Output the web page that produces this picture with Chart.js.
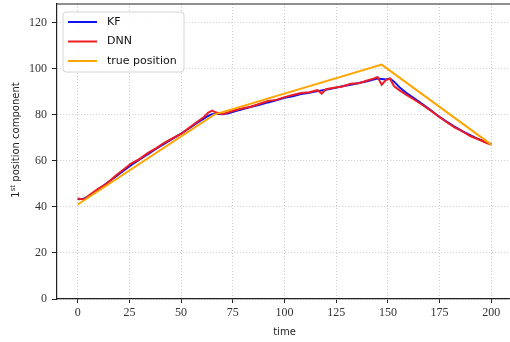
<!DOCTYPE html>
<html>
<head>
<meta charset="utf-8">
<script src="https://cdn.jsdelivr.net/npm/chart.js@4.4.1/dist/chart.umd.min.js"></script>
<style>
    html, body { margin: 0; padding: 0; background: #fff; overflow: hidden; }
    #wrap { position: relative; width: 512px; height: 342px; }
</style>
</head>
<body>
<div id="wrap"><canvas id="posChart"></canvas></div>
<script>
// time steps shared by the KF and DNN estimates
const timeSteps = [0, 3, 6, 10, 14, 18, 22, 26, 30, 34, 38, 42, 46, 50, 54, 58, 61, 63, 65, 67,
    70, 73, 76, 80, 84, 88, 92, 96, 100, 104, 108, 112, 116, 118, 120, 124, 128, 132, 136, 140,
    143, 145, 147, 149, 151, 153, 156, 159, 162, 166, 170, 174, 178, 182, 186, 190, 194, 198, 200];

const kfValues = [43.3, 43.5, 45.0, 47.5, 50.2, 52.8, 55.6, 58.2, 60.6, 62.8, 65.2, 67.4, 69.6, 71.8, 74.1, 76.6, 78.3, 79.4, 80.2, 80.4,
    80.2, 80.6, 81.4, 82.4, 83.4, 84.3, 85.3, 86.2, 87.3, 88.0, 88.9, 89.5, 90.2, 90.5, 90.8, 91.5, 92.3, 93.0, 93.7, 94.5,
    95.2, 95.7, 95.5, 95.2, 95.6, 94.3, 91.5, 89.4, 87.5, 85.0, 82.4, 79.6, 77.2, 74.9, 72.8, 71.0, 69.3, 67.9, 67.2];

const dnnValues = [43.6, 43.2, 45.3, 47.9, 50.0, 53.3, 56.1, 58.9, 60.8, 63.4, 65.5, 67.9, 69.8, 71.6, 74.4, 77.0, 79.0, 80.8, 81.7, 80.9,
    80.2, 81.0, 81.9, 82.8, 83.5, 84.7, 85.9, 86.4, 87.6, 88.5, 89.4, 89.7, 90.6, 89.1, 91.0, 91.7, 92.2, 93.4, 93.6, 94.8,
    95.6, 96.3, 93.0, 95.0, 95.6, 92.3, 90.3, 88.6, 86.9, 84.6, 82.2, 79.5, 77.0, 74.6, 72.7, 70.6, 69.2, 67.6, 67.0];

const trueTimes = [0, 66, 147, 200];
const trueValues = [41.0, 80.0, 101.7, 67.0];

const xTickValues = [0, 25, 50, 75, 100, 125, 150, 175, 200];
const yTickValues = [0, 20, 40, 60, 80, 100, 120];

const seriesLabels = ['KF', 'DNN', 'true position'];

function toPoints(xs, ys) {
    return xs.map((x, i) => ({ x: x, y: ys[i] }));
}

// legend box, top spine and the y title with its superscript
const extras = {
    id: 'extras',
    afterDatasetsDraw(chart) {
        const ctx = chart.ctx;
        const area = chart.chartArea;
        ctx.save();

        ctx.strokeStyle = '#222';
        ctx.lineWidth = 1.2;
        ctx.beginPath();
        ctx.moveTo(area.left, area.top);
        ctx.lineTo(area.right, area.top);
        ctx.stroke();

        const bx = area.left + 6, by = area.top + 8;
        ctx.beginPath();
        ctx.roundRect(bx, by, 121, 60, 3);
        ctx.fillStyle = 'rgba(255,255,255,0.85)';
        ctx.fill();
        ctx.strokeStyle = '#d4d4d4';
        ctx.lineWidth = 1;
        ctx.stroke();

        ctx.font = '11px "DejaVu Sans"';
        ctx.textBaseline = 'middle';
        ctx.textAlign = 'left';
        chart.data.datasets.forEach((ds, i) => {
            const ly = by + 10 + i * 19.5;
            ctx.strokeStyle = ds.borderColor;
            ctx.lineWidth = 2;
            ctx.beginPath();
            ctx.moveTo(bx + 5, ly);
            ctx.lineTo(bx + 34, ly);
            ctx.stroke();
            ctx.fillStyle = '#111';
            ctx.fillText(ds.label, bx + 44, ly);
        });
        ctx.restore();

        // y axis title
        ctx.save();
        ctx.translate(16, 140);
        ctx.rotate(-Math.PI / 2);
        ctx.fillStyle = '#222';
        ctx.textBaseline = 'middle';
        ctx.textAlign = 'left';
        const mainFont = '10px "DejaVu Sans"', supFont = '7px "DejaVu Sans"';
        ctx.font = mainFont;
        const w1 = ctx.measureText('1').width;
        const w3 = ctx.measureText(' position component').width;
        ctx.font = supFont;
        const w2 = ctx.measureText('st').width;
        let cx = -(w1 + w2 + w3) / 2;
        ctx.font = mainFont;
        ctx.fillText('1', cx, 0);
        cx += w1;
        ctx.font = supFont;
        ctx.fillText('st', cx, -3);
        cx += w2;
        ctx.font = mainFont;
        ctx.fillText(' position component', cx, 0);
        ctx.restore();
    }
};

const tickFont = { family: '"Liberation Serif"', size: 12 };

const gridStyle = (len) => ({
    color: '#c4c4c4',
    lineWidth: 0.9,
    tickColor: '#222',
    tickLength: len,
    tickWidth: 1,
    tickBorderDash: []
});

new Chart(document.getElementById('posChart').getContext('2d'), {
    type: 'line',
    data: {
        datasets: [{
            label: seriesLabels[0],
            data: toPoints(timeSteps, kfValues),
            borderColor: '#1010f0',
            borderWidth: 2,
            pointRadius: 0,
            order: 2
        }, {
            label: seriesLabels[1],
            data: toPoints(timeSteps, dnnValues),
            borderColor: '#ee1c25',
            borderWidth: 2,
            pointRadius: 0,
            order: 1
        }, {
            label: seriesLabels[2],
            data: toPoints(trueTimes, trueValues),
            borderColor: '#ffa500',
            borderWidth: 2,
            pointRadius: 0,
            order: 0
        }]
    },
    options: {
        responsive: true,
        maintainAspectRatio: false,
        animation: false,
        layout: {
            padding: { left: 0, top: 4, right: 0, bottom: 0 }
        },
        scales: {
            x: {
                type: 'linear',
                min: -10,
                max: 210,
                afterBuildTicks: (scale) => {
                    scale.ticks = xTickValues.map(v => ({ value: v }));
                },
                afterFit: (scale) => {
                    scale.height = 43;
                    scale.paddingLeft = 0;
                    scale.paddingRight = 0;
                },
                ticks: { font: tickFont, color: '#333', padding: 3, maxRotation: 0 },
                grid: gridStyle(4),
                border: { display: true, color: '#222', width: 1.2, dash: [1, 2] },
                title: {
                    display: true,
                    text: 'time',
                    font: { family: '"DejaVu Sans"', size: 10 },
                    color: '#222',
                    padding: { top: 2, bottom: 4 }
                }
            },
            y: {
                min: 0,
                max: 128,
                afterBuildTicks: (scale) => {
                    scale.ticks = yTickValues.map(v => ({ value: v }));
                },
                afterFit: (scale) => {
                    scale.width = 57;
                    scale.paddingTop = 0;
                    scale.paddingBottom = 0;
                },
                ticks: { font: tickFont, color: '#333', padding: 5 },
                grid: gridStyle(5),
                border: { display: true, color: '#222', width: 1.2, dash: [1, 2] }
            }
        },
        plugins: {
            legend: { display: false },
            title: { display: false },
            tooltip: { enabled: false }
        }
    },
    plugins: [extras]
});
</script>
</body>
</html>
